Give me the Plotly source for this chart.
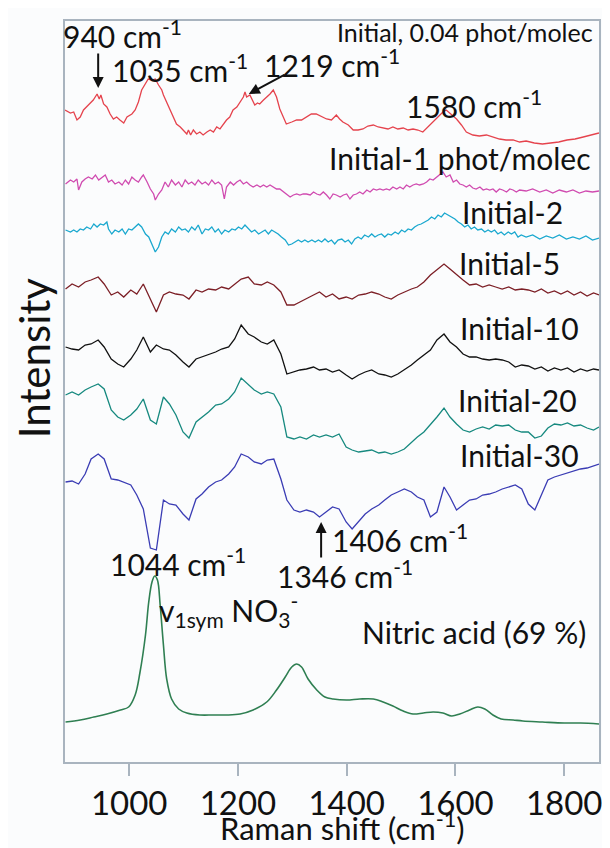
import plotly.graph_objects as go

# ---------------- data ----------------
# Raman shift (cm-1) grid shared by several spectra
wavenumber = [883, 895, 907, 919, 930, 943, 954, 967, 979, 990,
              1003, 1014, 1026, 1039, 1050, 1063, 1074, 1086, 1099, 1110,
              1123, 1134, 1146, 1159, 1170, 1183, 1194, 1206, 1219, 1230,
              1243, 1254, 1266, 1279, 1290, 1303, 1314, 1326, 1339, 1350,
              1362, 1374, 1386, 1399, 1410, 1422, 1434, 1446, 1459, 1470,
              1482, 1494, 1506, 1519, 1530, 1542, 1554, 1566, 1579, 1590,
              1602, 1614, 1626, 1638, 1650, 1662, 1674, 1686, 1698, 1710,
              1722, 1734, 1746, 1758, 1770, 1782, 1794, 1806, 1818, 1830,
              1842, 1854, 1864]

# Initial, 0.04 phot/molec (red)
wn_initial = [882, 892, 898, 904, 910, 916, 925, 934, 941, 945,
              948, 953, 959, 965, 971, 977, 983, 990, 996, 1005,
              1011, 1017, 1023, 1029, 1035, 1042, 1048, 1054, 1060, 1063,
              1069, 1075, 1081, 1087, 1094, 1100, 1106, 1109, 1113, 1118,
              1124, 1130, 1136, 1143, 1149, 1155, 1161, 1167, 1173, 1179,
              1185, 1191, 1198, 1204, 1210, 1213, 1216, 1222, 1228, 1231,
              1236, 1240, 1247, 1253, 1259, 1265, 1271, 1277, 1283, 1289,
              1299, 1308, 1317, 1326, 1335, 1344, 1354, 1363, 1372, 1381,
              1387, 1393, 1403, 1412, 1421, 1430, 1439, 1449, 1458, 1467,
              1476, 1485, 1494, 1504, 1513, 1522, 1531, 1540, 1549, 1559,
              1568, 1577, 1583, 1592, 1602, 1611, 1620, 1632, 1644, 1657,
              1669, 1681, 1693, 1706, 1718, 1730, 1745, 1760, 1775, 1790,
              1805, 1820, 1835, 1850, 1864]
int_initial = [646, 643, 644, 636, 639, 646, 651, 656, 662, 657,
               661, 652, 649, 642, 637, 639, 636, 633, 639, 642,
               646, 654, 666, 672, 677, 676, 677, 671, 666, 661,
               654, 646, 639, 632, 629, 626, 622, 626, 621, 626,
               622, 624, 621, 624, 626, 624, 629, 627, 632, 636,
               639, 646, 649, 654, 659, 664, 659, 661, 654, 651,
               653, 652, 656, 659, 662, 666, 659, 647, 639, 632,
               634, 636, 636, 639, 642, 642, 639, 637, 636, 641,
               637, 634, 631, 626, 626, 627, 630, 631, 629, 628,
               627, 629, 627, 628, 626, 627, 626, 624, 629, 634,
               639, 644, 646, 642, 637, 631, 624, 621, 620, 621,
               619, 617, 616, 616, 614, 615, 613, 612, 613, 614,
               616, 617, 619, 621, 623]

# Initial - 1 phot/molec (magenta)
wn_1 = [883, 892, 898, 904, 907, 913, 919, 925, 932, 938,
        944, 950, 956, 962, 968, 974, 981, 987, 993, 999,
        1005, 1011, 1017, 1023, 1026, 1033, 1039, 1045, 1048, 1054,
        1060, 1066, 1072, 1078, 1085, 1091, 1097, 1103, 1109, 1115,
        1121, 1127, 1134, 1140, 1146, 1152, 1158, 1164, 1170, 1175,
        1179, 1186, 1192, 1198, 1204, 1210, 1216, 1222, 1228, 1235,
        1241, 1247, 1253, 1259, 1265, 1271, 1277, 1284, 1290, 1296,
        1302, 1308, 1314, 1320, 1326, 1333, 1339, 1345, 1351, 1357,
        1363, 1369, 1375, 1381, 1388, 1394, 1400, 1406, 1412, 1418,
        1424, 1430, 1437, 1443, 1449, 1455, 1461, 1467, 1473, 1479,
        1485, 1492, 1498, 1504, 1510, 1516, 1522, 1528, 1534, 1541,
        1547, 1553, 1559, 1565, 1571, 1577, 1583, 1590, 1596, 1602,
        1608, 1614, 1620, 1626, 1632, 1638, 1645, 1651, 1657, 1663,
        1669, 1675, 1681, 1687, 1694, 1700, 1706, 1712, 1718, 1730,
        1742, 1755, 1767, 1779, 1791, 1804, 1816, 1828, 1840, 1852, 1864]
int_1 = [572, 576, 574, 577, 566, 574, 577, 579, 577, 581,
         576, 579, 581, 574, 576, 572, 574, 571, 576, 572,
         579, 576, 574, 579, 581, 574, 567, 562, 556, 562,
         566, 574, 569, 576, 571, 574, 569, 576, 572, 574,
         571, 576, 572, 574, 571, 576, 572, 574, 571, 557,
         569, 574, 571, 574, 576, 572, 574, 571, 569, 571,
         569, 571, 569, 571, 569, 567, 567, 564, 561, 559,
         561, 562, 561, 562, 562, 561, 564, 562, 561, 564,
         561, 557, 562, 561, 559, 561, 562, 557, 561, 562,
         564, 562, 566, 564, 567, 566, 567, 566, 567, 566,
         569, 567, 569, 567, 571, 569, 571, 572, 571, 572,
         574, 577, 576, 579, 582, 584, 579, 581, 574, 576,
         572, 571, 569, 571, 568, 567, 569, 566, 567, 566,
         567, 564, 567, 566, 564, 567, 566, 564, 566, 565,
         567, 564, 566, 563, 566, 564, 566, 563, 565, 564, 565]

# Initial - 2 (cyan)
wn_2 = [883, 892, 898, 904, 910, 916, 922, 929, 935, 941,
        947, 953, 959, 962, 968, 974, 981, 987, 993, 999,
        1005, 1011, 1017, 1023, 1030, 1036, 1042, 1048, 1054, 1060,
        1066, 1072, 1078, 1085, 1091, 1097, 1103, 1109, 1115, 1121,
        1127, 1134, 1140, 1146, 1152, 1158, 1164, 1170, 1176, 1183,
        1189, 1195, 1201, 1207, 1213, 1219, 1225, 1231, 1238, 1244,
        1250, 1256, 1262, 1268, 1274, 1280, 1287, 1293, 1299, 1305,
        1311, 1317, 1323, 1329, 1336, 1342, 1348, 1354, 1360, 1366,
        1372, 1378, 1384, 1391, 1397, 1403, 1409, 1415, 1421, 1427,
        1433, 1440, 1446, 1452, 1458, 1464, 1470, 1476, 1482, 1489,
        1495, 1501, 1507, 1513, 1519, 1525, 1531, 1537, 1544, 1550,
        1556, 1562, 1568, 1574, 1580, 1586, 1592, 1599, 1605, 1611,
        1617, 1623, 1629, 1635, 1641, 1648, 1654, 1660, 1666, 1672,
        1678, 1684, 1690, 1697, 1703, 1709, 1715, 1721, 1730, 1742,
        1755, 1767, 1779, 1791, 1804, 1816, 1828, 1840, 1852, 1864]
int_2 = [526, 524, 526, 524, 527, 526, 529, 527, 532, 529,
         532, 531, 534, 527, 522, 526, 524, 527, 522, 527,
         526, 529, 532, 529, 522, 519, 512, 504, 509, 519,
         524, 522, 527, 524, 529, 526, 527, 524, 529, 526,
         531, 522, 527, 526, 529, 524, 527, 522, 526, 524,
         527, 526, 529, 527, 531, 527, 524, 526, 522, 524,
         526, 522, 526, 524, 522, 519, 516, 511, 512, 514,
         516, 514, 516, 514, 516, 514, 516, 514, 517, 514,
         516, 512, 516, 517, 514, 516, 512, 517, 519, 517,
         521, 519, 522, 519, 521, 522, 519, 522, 521, 524,
         522, 526, 524, 527, 526, 529, 531, 532, 534, 536,
         539, 537, 541, 539, 543, 541, 539, 537, 534, 532,
         529, 531, 527, 529, 526, 527, 524, 526, 524, 526,
         522, 524, 521, 524, 522, 524, 519, 521, 519, 521,
         517, 520, 518, 521, 517, 519, 517, 520, 516, 518]

# Initial - 5 (dark red), Initial - 10 (black), Initial - 20 (teal), Initial - 30 (blue)
int_5 = [467, 472, 469, 474, 476, 479, 472, 461, 464, 459,
         466, 462, 472, 457, 444, 461, 464, 462, 461, 457,
         466, 464, 467, 466, 469, 467, 472, 477, 479, 472,
         471, 474, 471, 464, 451, 451, 454, 457, 461, 464,
         459, 462, 457, 459, 457, 461, 462, 464, 462, 459,
         457, 461, 464, 467, 469, 474, 481, 486, 492, 487,
         481, 476, 471, 472, 469, 471, 469, 467, 469, 466,
         467, 466, 464, 467, 463, 465, 462, 465, 461, 464,
         460, 463, 461]
int_10 = [409, 407, 406, 411, 412, 416, 409, 397, 392, 389,
          397, 406, 419, 404, 411, 407, 406, 401, 394, 389,
          397, 399, 401, 404, 407, 409, 417, 431, 422, 419,
          414, 412, 416, 402, 382, 384, 386, 387, 389, 386,
          387, 384, 386, 381, 377, 381, 384, 386, 382, 381,
          379, 382, 386, 391, 396, 401, 406, 416, 422, 414,
          409, 402, 399, 399, 397, 396, 397, 396, 394, 389,
          391, 390, 387, 389, 385, 388, 386, 388, 384, 387,
          385, 387, 386]
int_20 = [361, 364, 361, 366, 369, 372, 367, 346, 339, 336,
          341, 347, 357, 336, 332, 359, 352, 341, 324, 318,
          334, 339, 344, 351, 352, 357, 364, 378, 371, 366,
          362, 364, 362, 349, 319, 317, 319, 317, 321, 319,
          321, 319, 322, 309, 306, 304, 305, 306, 303, 304,
          302, 304, 307, 314, 319, 324, 331, 339, 348, 339,
          332, 326, 324, 327, 329, 327, 331, 330, 331, 326,
          324, 324, 318, 320, 328, 332, 331, 333, 330, 331,
          328, 326, 329]
int_30 = [274, 275, 272, 282, 297, 302, 297, 277, 276, 274,
          271, 261, 247, 208, 206, 256, 252, 251, 242, 236,
          257, 262, 269, 274, 276, 282, 289, 302, 299, 294,
          292, 296, 297, 277, 256, 246, 244, 246, 244, 239,
          244, 249, 247, 234, 227, 234, 242, 247, 251, 256,
          261, 264, 267, 264, 259, 256, 239, 244, 269, 259,
          246, 251, 256, 257, 261, 262, 264, 267, 269, 271,
          267, 252, 246, 262, 276, 279, 281, 283, 285, 287,
          288, 290, 292]

# Nitric acid (69 %) reference spectrum (green)
wn_hno3 = [883, 910, 935, 959, 984, 999, 1011, 1020, 1030, 1036,
           1042, 1047, 1052, 1057, 1063, 1069, 1078, 1091, 1106, 1130,
           1155, 1179, 1204, 1228, 1253, 1271, 1287, 1299, 1308, 1317,
           1329, 1345, 1360, 1375, 1400, 1424, 1449, 1467, 1485, 1504,
           1522, 1541, 1559, 1577, 1593, 1608, 1626, 1641, 1654, 1669,
           1684, 1706, 1724, 1760, 1800, 1830, 1864]
int_hno3 = [34, 36, 39, 42, 46, 49, 61, 84, 121, 154,
            174, 180, 176, 151, 111, 77, 57, 47, 43, 41,
            41, 41, 42, 46, 54, 66, 79, 89, 92, 89,
            77, 66, 59, 57, 56, 57, 57, 54, 50, 45,
            42, 43, 44, 43, 40, 42, 46, 49, 47, 41,
            37, 36, 35, 34, 33, 33, 32]

tick_values = [1000, 1200, 1400, 1600, 1800]

series = [
    ("Initial, 0.04 phot/molec", wn_initial, int_initial, "#e5434d", 1.3, "linear"),
    ("Initial-1 phot/molec", wn_1, int_1, "#d04bb0", 1.3, "linear"),
    ("Initial-2", wn_2, int_2, "#1aa8cf", 1.3, "linear"),
    ("Initial-5", wavenumber, int_5, "#7c1f26", 1.3, "linear"),
    ("Initial-10", wavenumber, int_10, "#111111", 1.3, "linear"),
    ("Initial-20", wavenumber, int_20, "#16897f", 1.3, "linear"),
    ("Initial-30", wavenumber, int_30, "#3a3cb4", 1.3, "linear"),
    ("Nitric acid (69 %)", wn_hno3, int_hno3, "#2f7f52", 1.6, "spline"),
]

for name, xs, ys, *_ in series:
    if len(xs) != len(ys):
        raise ValueError(f"{name}: {len(xs)} x vs {len(ys)} y")

FONT = "Lato, 'Open Sans', sans-serif"

fig = go.Figure()
for name, xs, ys, color, width, shape in series:
    fig.add_trace(go.Scatter(x=xs, y=ys, mode="lines", name=name,
                             line=dict(color=color, width=width, shape=shape),
                             showlegend=False))

def label(text, x, y, size, xanchor="left", xshift=0, yanchor="middle"):
    fig.add_annotation(x=x, y=y, xref="x", yref="y", text=text, showarrow=False,
                       xanchor=xanchor, yanchor=yanchor, borderpad=0, xshift=xshift,
                       font=dict(family=FONT, size=size, color="#111111"))

def arrow(x_head, y_head, x_tail, y_tail):
    fig.add_annotation(x=x_head, y=y_head, ax=x_tail, ay=y_tail, xref="x", yref="y",
                       axref="x", ayref="y", text="", showarrow=True,
                       arrowhead=2, arrowsize=1.1, arrowwidth=2, arrowcolor="#111111")

# peak labels
label("940 cm<sup>-1</sup>", 884, 722, 30, xshift=-4)
label("1035 cm<sup>-1</sup>", 966, 688, 30)
label("1219 cm<sup>-1</sup>", 1246, 693, 30)
label("1580 cm<sup>-1</sup>", 1507, 652, 30)
label("1406 cm<sup>-1</sup>", 1371, 218, 30)
label("1346 cm<sup>-1</sup>", 1270, 182, 30)
label("1044 cm<sup>-1</sup>", 963, 194, 30)
label("v<sub>1sym</sub> NO<sub>3</sub><sup>-</sup>", 1053, 146, 30)

arrow(943, 668, 943, 704)
arrow(1220, 662, 1288, 682)
arrow(1353, 234, 1353, 197)

# series labels
fig.add_annotation(x=0.991, y=1.0, xref="paper", yref="paper",
                   text="Initial, 0.04 phot/molec", showarrow=False,
                   xanchor="right", yanchor="top", borderpad=0, yshift=5,
                   font=dict(family=FONT, size=25, color="#111111"))
label("Initial-1 phot/molec", 1851, 598, 30, "right")
label("Initial-2", 1800, 544, 30, "right")
label("Initial-5", 1794, 493, 30, "right")
label("Initial-10", 1829, 428, 30, "right")
label("Initial-20", 1825, 356, 30, "right")
label("Initial-30", 1829, 301, 30, "right")
label("Nitric acid (69 %)", 1842, 124, 30, "right")

# axis titles
fig.add_annotation(x=-0.058, y=0.545, xref="paper", yref="paper", text="Intensity",
                   textangle=-90, showarrow=False, xanchor="center", yanchor="middle",
                   font=dict(family=FONT, size=42, color="#111111"))
fig.add_annotation(x=0.52, y=-0.1161, xref="paper", yref="paper",
                   text="Raman shift (cm<sup>-1</sup>)", showarrow=False,
                   xanchor="center", yanchor="bottom", borderpad=0,
                   font=dict(family=FONT, size=31, color="#111111"))

FRAME = "#a9b4bf"
fig.update_xaxes(range=[882, 1864], tickvals=tick_values, ticks="outside", ticklen=12,
                 tickcolor=FRAME, tickwidth=1.5, showline=True, linecolor=FRAME,
                 linewidth=1.5, mirror=True, showgrid=False, zeroline=False,
                 ticklabelstandoff=0,
                 tickfont=dict(family=FONT, size=33, color="#111111"))
fig.update_yaxes(range=[-6, 735], showticklabels=False, ticks="", showline=True,
                 linecolor=FRAME, linewidth=1.5, mirror=True, showgrid=False,
                 zeroline=False)

fig.update_layout(width=610, height=848, margin=dict(l=57, r=19, t=13, b=94),
                  paper_bgcolor="#fbfcfd", plot_bgcolor="#fbfcfd",
                  font=dict(family=FONT))

fig.write_html("out.html")
